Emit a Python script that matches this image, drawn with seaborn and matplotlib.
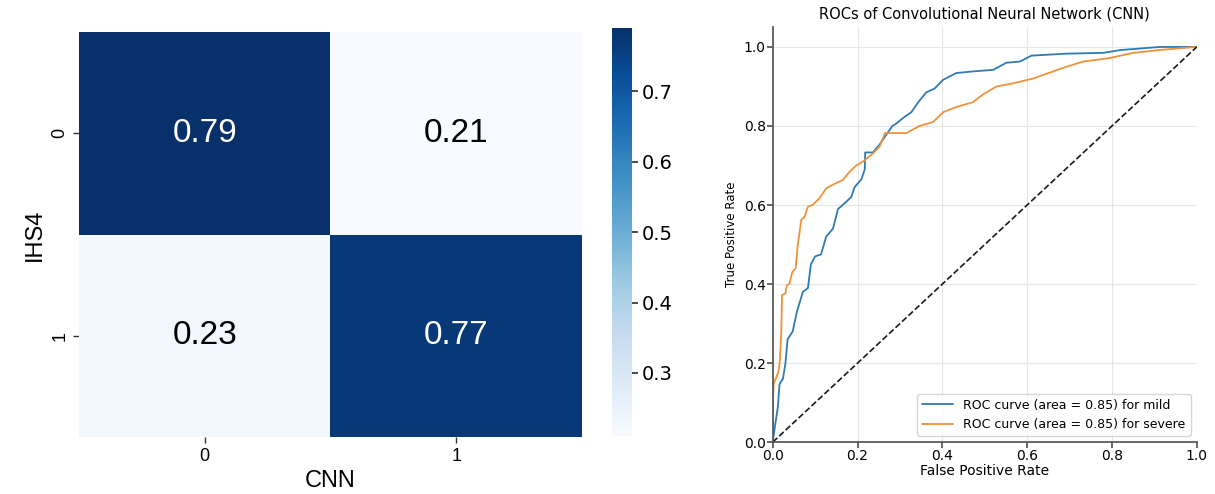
import numpy as np
import pandas as pd
import matplotlib
matplotlib.use("Agg")
import matplotlib.pyplot as plt
import seaborn as sns

# confusion matrix (normalised)
cm_labels = ["0", "1"]
cm_values = [[0.79, 0.21],
             [0.23, 0.77]]

# ROC curves
mild_fpr = [0.0, 0.006, 0.012, 0.016, 0.024, 0.03, 0.035, 0.047, 0.057, 0.071, 0.083, 0.09,
            0.10, 0.114, 0.126, 0.142, 0.154, 0.165, 0.185, 0.193, 0.209, 0.217, 0.218, 0.236,
            0.252, 0.268, 0.282, 0.29, 0.307, 0.327, 0.343, 0.362, 0.382, 0.402, 0.433, 0.472,
            0.52, 0.551, 0.583, 0.61, 0.693, 0.78, 0.819, 0.913, 1.0]
mild_tpr = [0.0, 0.046, 0.088, 0.147, 0.16, 0.2, 0.26, 0.28, 0.33, 0.38, 0.39, 0.45,
            0.47, 0.475, 0.52, 0.54, 0.59, 0.60, 0.62, 0.645, 0.665, 0.69, 0.733, 0.733,
            0.753, 0.778, 0.80, 0.805, 0.82, 0.835, 0.86, 0.885, 0.895, 0.917, 0.934, 0.938,
            0.942, 0.96, 0.963, 0.978, 0.983, 0.985, 0.992, 1.0, 1.0]
severe_fpr = [0.0, 0.0, 0.002, 0.009, 0.014, 0.017, 0.02, 0.022, 0.03, 0.033, 0.039, 0.046,
              0.054, 0.059, 0.063, 0.067, 0.075, 0.083, 0.094, 0.11, 0.126, 0.146, 0.165,
              0.181, 0.197, 0.213, 0.236, 0.252, 0.265, 0.315, 0.346, 0.378, 0.402, 0.433,
              0.472, 0.496, 0.528, 0.567, 0.614, 0.661, 0.693, 0.732, 0.795, 0.85, 0.92, 1.0]
severe_tpr = [0.0, 0.08, 0.148, 0.165, 0.18, 0.21, 0.275, 0.372, 0.376, 0.397, 0.40, 0.43,
              0.44, 0.50, 0.528, 0.562, 0.57, 0.596, 0.60, 0.617, 0.642, 0.654, 0.663,
              0.684, 0.70, 0.71, 0.73, 0.748, 0.782, 0.782, 0.80, 0.81, 0.835, 0.848,
              0.86, 0.88, 0.90, 0.908, 0.92, 0.938, 0.95, 0.963, 0.972, 0.985, 0.993, 1.0]
mild_auc = 0.85
severe_auc = 0.85

sns.set_theme(style="white")
plt.rcParams['font.family'] = ['DejaVu Sans']
plt.rcParams['text.color'] = 'black'
plt.rcParams['axes.labelcolor'] = 'black'
plt.rcParams['xtick.color'] = 'black'
plt.rcParams['ytick.color'] = 'black'

fig = plt.figure(figsize=(12.15, 4.94), dpi=100)

# --- heatmap ---
ax1 = fig.add_axes([0.065, 0.115, 0.414, 0.82])
cax = fig.add_axes([0.504, 0.117, 0.016, 0.826])
cm_df = pd.DataFrame(cm_values, index=cm_labels, columns=cm_labels)
sns.heatmap(cm_df, annot=True, fmt=".2f", cmap="Blues", ax=ax1, cbar_ax=cax,
            annot_kws={"fontsize": 24, "family": "Liberation Sans"})
for t in ax1.texts:
    if t.get_text() in ("0.21", "0.23"):
        t.set_color("black")
ax1.set_xlabel("CNN", fontsize=17, family="Liberation Sans")
ax1.set_ylabel("IHS4", fontsize=17, family="Liberation Sans")
ax1.tick_params(axis="both", length=4, width=1, labelsize=13, bottom=True, left=True, color="#333333")
for lab in ax1.get_xticklabels() + ax1.get_yticklabels():
    lab.set_family("Liberation Sans")
ax1.set_yticklabels(cm_labels, rotation=90, va="center")
cax.tick_params(labelsize=14, length=4, right=True, color="#333333")
cax.set_yticks([0.3, 0.4, 0.5, 0.6, 0.7])
for lab in cax.get_yticklabels():
    lab.set_family("DejaVu Sans")

# --- ROC ---
ax2 = fig.add_axes([0.636, 0.105, 0.349, 0.84])
roc = pd.concat([
    pd.DataFrame({"fpr": mild_fpr, "tpr": mild_tpr,
                  "curve": f"ROC curve (area = {mild_auc:.2f}) for mild"}),
    pd.DataFrame({"fpr": severe_fpr, "tpr": severe_tpr,
                  "curve": f"ROC curve (area = {severe_auc:.2f}) for severe"}),
])
sns.lineplot(data=roc, x="fpr", y="tpr", hue="curve", sort=False, estimator=None,
             palette=["#2f7bb6", "#f0923a"], lw=1.3, ax=ax2)
ax2.plot([0, 1], [0, 1], "k--", lw=1.2)
ax2.set_xlim(0, 1.0)
ax2.set_ylim(0, 1.05)
ax2.set_xticks(np.arange(0, 1.01, 0.2))
ax2.set_yticks(np.arange(0, 1.01, 0.2))
ax2.grid(True, color="#e6e6e6", lw=0.8)
sns.despine(ax=ax2)
for s in ["left", "bottom"]:
    ax2.spines[s].set_color("#555555")
ax2.tick_params(labelsize=10, length=4, left=True, bottom=True, pad=1, color="#555555")
ax2.set_xlabel("False Positive Rate", fontsize=10, labelpad=1)
ax2.set_ylabel("True Positive Rate", fontsize=8.5)
ax2.set_title("ROCs of Convolutional Neural Network (CNN)", fontsize=10.5, pad=6)
ax2.legend(loc="lower right", fontsize=9, frameon=True, handlelength=2.5)

fig.savefig("out.png", dpi=100)
